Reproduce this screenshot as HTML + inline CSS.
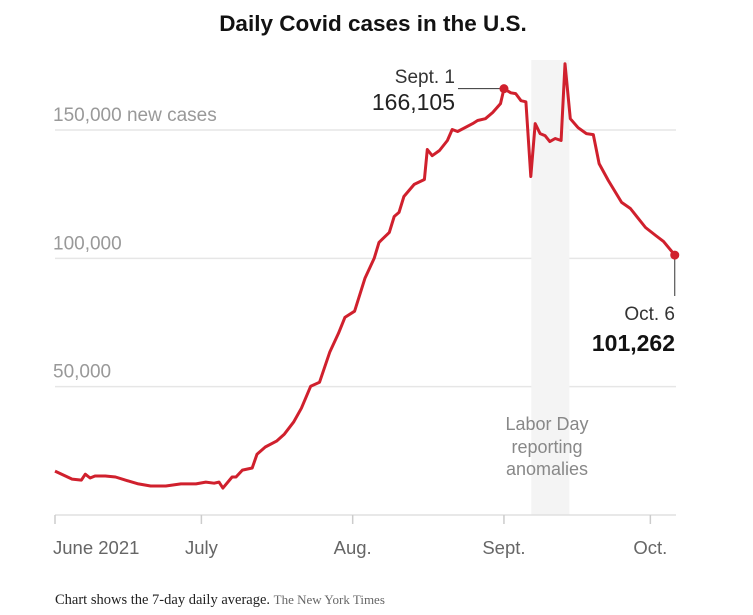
<!DOCTYPE html>
<html><head><meta charset="utf-8"><style>
body{margin:0;background:#fff;width:753px;height:610px;overflow:hidden}
</style></head><body>
<svg id="chart" width="753" height="610" viewBox="0 0 753 610" font-family="Liberation Sans, sans-serif">
<text x="373" y="31" text-anchor="middle" font-size="22.5" font-weight="bold" fill="#121212">Daily Covid cases in the U.S.</text>
<g id="grid"></g>
<rect id="band" fill="#f4f4f4"/>
<g id="axis"></g>
<path id="line" fill="none" stroke="#d0202d" stroke-width="3" stroke-linejoin="round"/>
<g id="ann"></g>
<text font-size="18" fill="#888" text-anchor="middle"><tspan x="547" y="430">Labor Day</tspan><tspan x="547" y="453">reporting</tspan><tspan x="547" y="475">anomalies</tspan></text>
<text x="55" y="604" style="font-family:'Liberation Serif',serif" font-size="14.5" fill="#222">Chart shows the 7-day daily average. <tspan font-size="13" fill="#666">The New York Times</tspan></text>
</svg>
<script>
const days=[0,3.5,5.4,6.2,7.2,8.2,10.3,12.4,14.4,17.1,19.6,22.7,25.8,28.9,30.9,32.6,33.6,34.4,36.3,37.1,38.4,40.4,41.4,43.1,45.4,47.0,48.9,50.5,52.4,54.2,56.3,58.1,59.4,61.4,63.5,65.4,66.4,68.5,69.5,70.5,71.5,73.6,75.7,76.3,77.3,78.8,80.4,81.4,82.5,85.6,86.6,88.2,89.7,91.3,92,93.4,94.4,95.5,96.5,97.5,98.4,99.4,100.4,101.4,102.5,103.7,104.5,105.6,107.2,108.9,110.3,111.5,113.4,116.1,117.9,121.0,123.1,124.7,127];
const cases=[17100,14000,13600,15900,14400,15200,15200,14800,13600,12100,11300,11300,12100,12100,12800,12400,12800,10500,14800,14800,17500,18300,23700,26500,28800,31500,36200,41600,50200,51700,63400,70800,77000,79400,92200,100000,106200,110100,116300,117900,124100,128800,130700,142400,140000,142000,145900,150200,149400,152500,153700,154400,156800,160300,166105,164500,164200,161400,161000,131900,152500,148600,147800,145500,146700,145900,175800,154400,150900,148600,148200,136900,130300,121800,119400,112000,108900,106600,101262];
const yTicks=[50000,100000,150000];
const yTickLabels=["50,000","100,000","150,000 new cases"];
const xTickDays=[0,30,61,92,122];
const xTickLabels=["June 2021","July","Aug.","Sept.","Oct."];
const bandDays=[97.6,105.4];
const NS="http://www.w3.org/2000/svg";
const x=d=>55+d*4.88, y=v=>515-v*385/150000;
function mk(t,a,p){const e=document.createElementNS(NS,t);for(const k in a)e.setAttribute(k,a[k]);p.appendChild(e);return e;}
const grid=document.getElementById('grid'),axis=document.getElementById('axis'),ann=document.getElementById('ann');
yTicks.forEach((v,i)=>{
 const l=mk('line',{x1:55,x2:676,y1:y(v),y2:y(v),stroke:'#e6e6e6','stroke-width':1.5},grid);
 
 
 const t=mk('text',{x:53,y:y(v)-9,'font-size':19,fill:'#999'},grid);t.textContent=yTickLabels[i];
 
 
});
const b=document.getElementById('band');
b.setAttribute('x',x(bandDays[0]));b.setAttribute('width',x(bandDays[1])-x(bandDays[0]));b.setAttribute('y',60);b.setAttribute('height',455);
const base=mk('line',{x1:55,x2:676,y1:515,y2:515,stroke:'#e0e0e0','stroke-width':1.5},axis);


xTickDays.forEach((d,i)=>{
 const tk=mk('line',{x1:x(d),x2:x(d),y1:515,y2:524,stroke:'#ccc','stroke-width':1.5},axis);
 
 
 const t=mk('text',{x:i==0?x(d)-2:x(d),y:554,'font-size':18.5,fill:'#666','text-anchor':i==0?'start':'middle'},axis);t.textContent=xTickLabels[i];
 
 
});
document.getElementById('line').setAttribute('d',days.map((d,i)=>(i?'L':'M')+x(d).toFixed(1)+','+y(cases[i]).toFixed(1)).join(''));
const pk=54,last=days.length-1;
const l1=mk('line',{x1:458,x2:x(days[pk]),y1:y(cases[pk]),y2:y(cases[pk]),stroke:'#333','stroke-width':1},ann);


const l2=mk('line',{x1:x(days[last]),x2:x(days[last]),y1:y(cases[last]),y2:296,stroke:'#333','stroke-width':1},ann);


[pk,last].forEach(i=>{const c=mk('circle',{cx:x(days[i]),cy:y(cases[i]),r:4.5,fill:'#d0202d'},ann);
 
 });
function txt(s,a,name){const t=mk('text',a,ann);t.textContent=s;
 
 }
txt('Sept. 1',{x:455,y:83,'font-size':19,fill:'#333','text-anchor':'end'},'sept-label');
txt(cases[pk].toLocaleString('en-US'),{x:455,y:110,'font-size':23,fill:'#222','text-anchor':'end'},'sept-value');
txt('Oct. 6',{x:675,y:320,'font-size':19,fill:'#333','text-anchor':'end'},'oct-label');
txt(cases[last].toLocaleString('en-US'),{x:675,y:351,'font-size':23,'font-weight':'bold',fill:'#121212','text-anchor':'end'},'oct-value');
</script>
</body></html>
